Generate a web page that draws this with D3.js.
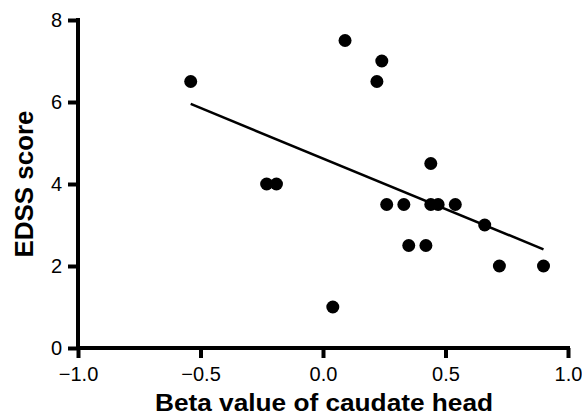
<!DOCTYPE html>
<html><head><meta charset="utf-8">
<script src="https://cdn.jsdelivr.net/npm/d3@7"></script>
<style>body{margin:0;background:#fff}svg{display:block}</style>
</head><body>
<svg id="c" width="582" height="415"></svg>
<script>
const betaValues = [-0.54, 0.09, 0.24, 0.22, -0.23, -0.19, 0.04, 0.44, 0.26, 0.33, 0.44, 0.47, 0.54, 0.66, 0.35, 0.42, 0.72, 0.90];
const edssScores = [6.5, 7.5, 7.0, 6.5, 4.0, 4.0, 1.0, 4.5, 3.5, 3.5, 3.5, 3.5, 3.5, 3.0, 2.5, 2.5, 2.0, 2.0];
const xTicks = [-1.0, -0.5, 0.0, 0.5, 1.0];
const yTicks = [0, 2, 4, 6, 8];
const xTitle = "Beta value of caudate head";
const yTitle = "EDSS score";

const svg = d3.select("#c");
const x = d3.scaleLinear().domain([-1, 1]).range([78, 568]);
const y = d3.scaleLinear().domain([0, 8]).range([348, 20]);

// least-squares regression line
const n = betaValues.length;
const mx = d3.mean(betaValues), my = d3.mean(edssScores);
let sxy = 0, sxx = 0;
for (let i = 0; i < n; i++) { sxy += (betaValues[i]-mx)*(edssScores[i]-my); sxx += (betaValues[i]-mx)**2; }
const slope = sxy / sxx, intercept = my - slope * mx;
const [x0, x1] = d3.extent(betaValues);

const font = "Liberation Sans, Arial, sans-serif";
const axisW = 4;

const xAxis = svg.append("g").attr("transform", `translate(0,${y(0)})`)
  .call(d3.axisBottom(x).tickValues(xTicks).tickFormat(d3.format(".1f")).tickSize(10).tickPadding(9));
const yAxis = svg.append("g").attr("transform", `translate(${x(-1)},0)`)
  .call(d3.axisLeft(y).tickValues(yTicks).tickFormat(d3.format("d")).tickSize(10).tickPadding(6));
[xAxis, yAxis].forEach(g => {
  g.select(".domain").attr("stroke", "#000").attr("stroke-width", axisW);
  g.selectAll(".tick line").attr("stroke", "#000").attr("stroke-width", axisW);
  g.selectAll(".tick text").attr("fill", "#000").style("font-family", font).style("font-size", "20px");
});
xAxis.select(".domain").attr("d", `M${x(-1)-axisW/2},0H${x(1)+axisW/2}`);
yAxis.select(".domain").attr("d", `M0,${y(0)+axisW/2}V${y(8)-axisW/2}`);

svg.append("line")
  .attr("x1", x(x0)).attr("y1", y(intercept + slope*x0))
  .attr("x2", x(x1)).attr("y2", y(intercept + slope*x1))
  .attr("stroke", "#000").attr("stroke-width", 2.5);

svg.append("g").selectAll("circle").data(betaValues).join("circle")
  .attr("cx", d => x(d)).attr("cy", (d, i) => y(edssScores[i])).attr("r", 6.5).attr("fill", "#000");

svg.append("text").attr("x", 324).attr("y", 411).attr("text-anchor", "middle")
  .attr("textLength", 338).attr("lengthAdjust", "spacingAndGlyphs")
  .style("font-family", font).style("font-size", "24px").style("font-weight", "bold").text(xTitle);
svg.append("text").attr("transform", `translate(33,${y(4)}) rotate(-90)`).attr("text-anchor", "middle")
  .attr("textLength", 147).attr("lengthAdjust", "spacingAndGlyphs")
  .style("font-family", font).style("font-size", "26px").style("font-weight", "bold").text(yTitle);
</script>
</body></html>
